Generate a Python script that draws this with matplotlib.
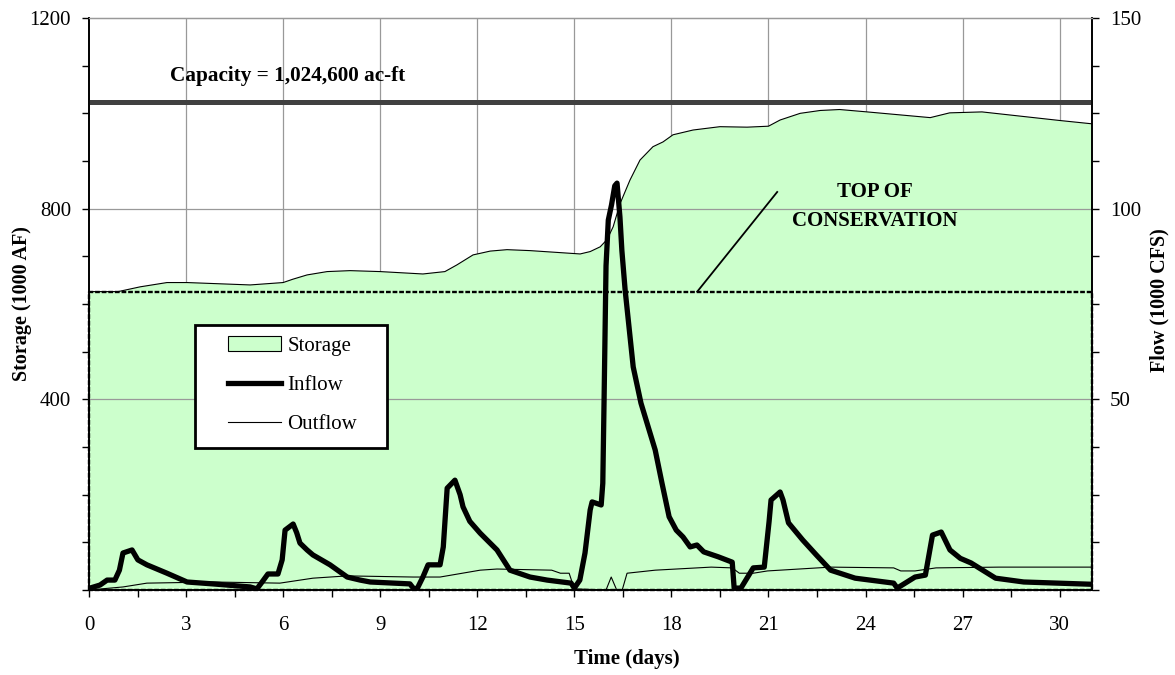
import matplotlib
matplotlib.use('Agg')
import matplotlib.pyplot as plt
from matplotlib.ticker import MultipleLocator, FuncFormatter
from matplotlib.patches import Patch, Rectangle
from matplotlib.lines import Line2D

plt.rcParams['font.family'] = ['Liberation Serif', 'DejaVu Serif']

# Reservoir data (time in days)
CAPACITY = 1024.6            # 1000 AF
TOP_OF_CONSERVATION = 626    # 1000 AF

storage_days = [0, 0.9, 1.58, 2.41, 3.03, 4.98, 6.0, 6.3, 6.74, 7.36, 8.07, 9.0, 10.32,
                11.0, 11.37, 11.87, 12.4, 12.92, 13.63, 15.18, 15.49, 15.8, 16.01, 16.2,
                16.41, 16.72, 17.03, 17.43, 17.74, 18.05, 18.67, 19.5, 20.34, 21.0, 21.36,
                21.98, 22.6, 23.2, 24.05, 26.0, 26.6, 27.6, 30.0, 31.0]
storage = [626, 626, 636, 645, 645, 640, 645, 652, 661, 668, 670, 668, 663,
           668, 682, 703, 711, 714, 712, 705, 710, 720, 735, 762,
           810, 860, 902, 930, 940, 955, 965, 972, 971, 973, 986,
           1000, 1006, 1008, 1003, 991, 1001, 1003, 985, 978]

inflow_days = [0, 0.03, 0.34, 0.56, 0.80, 0.94, 1.05, 1.33, 1.42, 1.51, 1.79, 2.41, 3.03,
               3.83, 4.98, 5.19, 5.35, 5.53, 5.84, 5.97, 6.06, 6.31, 6.42, 6.52, 6.74,
               6.92, 7.45, 7.98, 8.38, 8.69, 9.92, 10.02, 10.14, 10.32, 10.48, 10.85,
               10.95, 11.07, 11.31, 11.47, 11.56, 11.77, 12.09, 12.61, 13.01, 13.63,
               14.16, 14.9, 15.0, 15.17, 15.33, 15.49, 15.55, 15.83, 15.88, 15.92,
               15.98, 16.05, 16.15, 16.25, 16.32, 16.41, 16.47, 16.57, 16.82, 17.06,
               17.5, 17.71, 17.93, 18.15, 18.36, 18.58, 18.79, 19.0, 19.45, 19.88,
               19.94, 20.15, 20.53, 20.87, 21.02, 21.08, 21.36, 21.45, 21.62, 22.06,
               22.49, 22.92, 23.68, 24.87, 24.98, 25.53, 25.85, 26.07, 26.34, 26.61,
               26.93, 27.26, 28.02, 28.89, 31.0]
inflow = [0.2, 0.5, 1.3, 2.6, 2.6, 5.2, 9.7, 10.5, 9.2, 7.9, 6.6, 4.4, 2.1,
          1.6, 0.8, 0.3, 2.1, 4.2, 4.2, 7.9, 15.7, 17.3, 15.0, 12.3, 10.5,
          9.2, 6.6, 3.4, 2.6, 2.1, 1.6, 0.5, 0.3, 3.4, 6.6, 6.6,
          11.3, 26.7, 28.8, 25.0, 21.8, 18.0, 14.9, 10.5, 5.2, 3.4,
          2.6, 1.8, 0.5, 2.6, 9.7, 21.0, 23.1, 22.3, 28.0, 50.0,
          85.0, 97.0, 101.0, 106.0, 106.7, 97.8, 89.0, 78.7, 58.5, 49.0,
          36.7, 28.0, 19.2, 15.7, 13.9, 11.3, 11.8, 10.0, 8.7, 7.3,
          0.5, 0.5, 5.8, 6.0, 18.0, 23.6, 25.7, 23.6, 17.6, 13.1,
          9.1, 5.2, 3.1, 1.8, 0.5, 3.4, 3.9, 14.4, 15.2, 10.5,
          8.3, 7.1, 3.1, 2.1, 1.5]

outflow_days = [0, 1.05, 1.79, 3.83, 5.9, 6.92, 7.98, 10.02, 10.85, 12.09, 12.61, 14.3,
                14.57, 14.84, 15.0, 15.98, 16.14, 16.31, 16.48, 16.63, 17.5, 19.23, 19.88,
                20.1, 20.53, 20.97, 22.92, 24.87, 25.09, 25.53, 26.18, 28.13, 31.0]
outflow = [0, 0.8, 1.8, 2.1, 1.8, 3.1, 3.7, 3.4, 3.4, 5.2, 5.5, 5.2,
           4.4, 4.4, 0.3, 0, 3.4, 0, 0, 4.4, 5.2, 6.0, 5.8,
           4.4, 4.4, 5.0, 6.0, 5.8, 5.0, 5.0, 5.8, 6.0, 6.0]

green = '#CCFFCC'

fig = plt.figure(figsize=(11.75, 6.75), dpi=100)
ax = fig.add_axes([89 / 1175, 1 - 590 / 675, 1003 / 1175, 572 / 675])
ax2 = ax.twinx()

ax.set_xlim(0, 31)
ax.set_ylim(0, 1200)
ax2.set_ylim(0, 150)

# vertical grid sits behind the storage fill
for d in range(3, 31, 3):
    ax.axvline(d, color='#999999', lw=0.9, zorder=0)

ax.fill_between(storage_days, storage, 0, facecolor=green, edgecolor='none', zorder=1)
ax.plot(storage_days, storage, color='black', lw=0.8, zorder=2)

# horizontal grid drawn over the fill
for v in (400, 800):
    ax.axhline(v, color='#999999', lw=0.9, zorder=1.5)

# top of conservation pool outline
ax.plot([0, 0, 31, 31, 0], [0, TOP_OF_CONSERVATION, TOP_OF_CONSERVATION, 0, 0],
        color='black', lw=1.7, ls=(0, (2, 0.8)), zorder=2.5, clip_on=False)

# capacity line
ax.axhline(CAPACITY, color='#404040', lw=3.6, zorder=3)
ax.text(6.15, 1078, 'Capacity = 1,024,600 ac-ft', fontsize=15.3, fontweight='bold',
        ha='center', va='center')

ax.plot([18.8, 21.27], [TOP_OF_CONSERVATION, 835], color='black', lw=1.3, zorder=3)
ax.text(24.3, 834, 'TOP OF', fontsize=15, fontweight='bold', ha='center', va='center')
ax.text(24.3, 775, 'CONSERVATION', fontsize=15, fontweight='bold', ha='center', va='center')

ax2.plot(outflow_days, outflow, color='black', lw=0.8, zorder=3)
ax2.plot(inflow_days, inflow, color='black', lw=3.8, zorder=4,
         solid_joinstyle='round', solid_capstyle='round')

# axes styling
ax.xaxis.set_major_locator(MultipleLocator(3))
ax.xaxis.set_minor_locator(MultipleLocator(1.5))
ax.yaxis.set_major_locator(MultipleLocator(400))
ax.yaxis.set_minor_locator(MultipleLocator(100))
ax2.yaxis.set_major_locator(MultipleLocator(50))
ax2.yaxis.set_minor_locator(MultipleLocator(12.5))
ax.yaxis.set_major_formatter(FuncFormatter(lambda v, p: '' if v == 0 else f'{v:.0f}'))
ax2.yaxis.set_major_formatter(FuncFormatter(lambda v, p: '' if v == 0 else f'{v:.0f}'))

ax.tick_params(axis='x', which='both', direction='out', length=5, width=1, labelsize=15, pad=14)
ax.tick_params(axis='y', which='both', direction='out', length=5, width=1, labelsize=15, pad=8)
ax2.tick_params(axis='y', which='both', direction='out', length=5, width=1, labelsize=15, pad=8)

for a in (ax, ax2):
    a.spines['top'].set_color('#999999')
    a.spines['top'].set_linewidth(0.9)
    for s in ('left', 'right', 'bottom'):
        a.spines[s].set_linewidth(1.2)

fig.text(22 / 1175, 1 - 304 / 675, 'Storage (1000 AF)', rotation=90, fontsize=14.5,
         fontweight='bold', ha='center', va='center')
fig.text(1159 / 1175, 1 - 300 / 675, 'Flow (1000 CFS)', rotation=90, fontsize=14.5,
         fontweight='bold', ha='center', va='center')
fig.text(627 / 1175, 1 - 659 / 675, 'Time (days)', fontsize=15, fontweight='bold',
         ha='center', va='center')

# legend with a hand-placed frame
frame = Rectangle(((195 - 89) / 1003, (590 - 448) / 572), 192 / 1003, 123 / 572,
                  transform=ax2.transAxes, facecolor='white', edgecolor='black',
                  lw=2, zorder=5)
ax2.add_patch(frame)
handles = [Patch(facecolor=green, edgecolor='black', lw=0.8),
           Line2D([], [], color='black', lw=3.8),
           Line2D([], [], color='black', lw=0.8)]
leg = ax2.legend(handles, ['Storage', 'Inflow', 'Outflow'], loc='upper left',
                 bbox_to_anchor=((228 - 89) / 1003, (590 - 336) / 572), frameon=False,
                 borderpad=0, borderaxespad=0, fontsize=15, handlelength=2.55,
                 handletextpad=0.3, labelspacing=0.95)
leg.set_zorder(6)

fig.savefig('out.png', dpi=100)
